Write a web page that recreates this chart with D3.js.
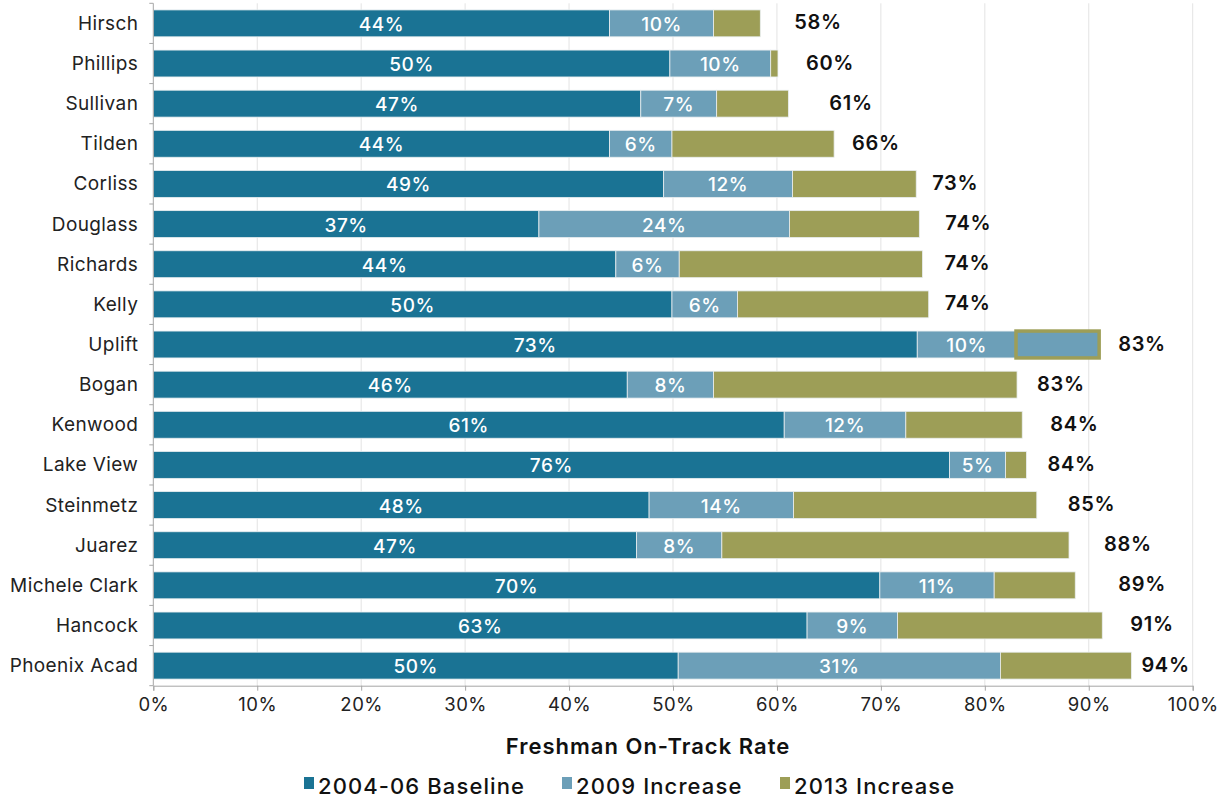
<!DOCTYPE html>
<html>
<head>
<meta charset="utf-8">
<script src="https://cdn.jsdelivr.net/npm/d3@7/dist/d3.min.js"></script>
<style>
  html, body { margin: 0; padding: 0; background: #fff; }
  svg { display: block; }
  text { font-family: Inter, "Noto Sans", sans-serif; }
</style>
</head>
<body>
<svg id="chart" width="1228" height="798"></svg>
<script>
// ---- data ----
const categories = ["Hirsch", "Phillips", "Sullivan", "Tilden", "Corliss", "Douglass ", "Richards", "Kelly", "Uplift", "Bogan", "Kenwood", "Lake View", "Steinmetz", "Juarez", "Michele Clark", "Hancock", "Phoenix Acad"];
const baseline2004 = [43.9, 49.7, 46.9, 43.9, 49.1, 37.1, 44.5, 49.9, 73.5, 45.6, 60.7, 76.6, 47.7, 46.5, 69.9, 62.9, 50.5];
const increase2009 = [10.0, 9.7, 7.3, 6.0, 12.4, 24.1, 6.1, 6.3, 9.5, 8.3, 11.7, 5.4, 13.9, 8.2, 11.0, 8.7, 31.0];
const increase2013 = [4.5, 0.7, 6.9, 15.6, 11.9, 12.5, 23.4, 18.4, 8.0, 29.2, 11.2, 2.0, 23.4, 33.4, 7.8, 19.7, 12.6];
const baselineLabels = ["44%", "50%", "47%", "44%", "49%", "37%", "44%", "50%", "73%", "46%", "61%", "76%", "48%", "47%", "70%", "63%", "50%"];
const inc2009Labels = ["10%", "10%", "7%", "6%", "12%", "24%", "6%", "6%", "10%", "8%", "12%", "5%", "14%", "8%", "11%", "9%", "31%"];
const totalLabels = ["58%", "60%", "61%", "66%", "73%", "74%", "74%", "74%", "83%", "83%", "84%", "84%", "85%", "88%", "89%", "91%", "94%"];
const seriesNames = ["2004-06 Baseline", "2009 Increase", "2013 Increase"];
const xTicks = [0, 10, 20, 30, 40, 50, 60, 70, 80, 90, 100];
const outlinedCategories = ["Uplift"];

// ---- layout (not data) ----
const totalLabelGap = [34, 28, 41, 18, 16, 26, 22, 16, 19, 20, 28, 21, 31, 35, 43, 28, 10];
const colors = ["#1a7394", "#6c9fb8", "#9d9e57"];
const plot = { left: 153.3, right: 1192.7, top: 3.3, bottom: 685.7 };

const svg = d3.select("#chart");

const x = d3.scaleLinear().domain([0, 100]).range([plot.left, plot.right]);
const y = d3.scaleBand().domain(categories).range([plot.top, plot.bottom])
  .paddingInner(0.33).paddingOuter(0.165);

// gridlines
svg.append("g").selectAll("line").data(xTicks.filter(d => d > 0)).join("line")
  .attr("x1", d => x(d)).attr("x2", d => x(d))
  .attr("y1", plot.top).attr("y2", plot.bottom)
  .attr("stroke", "#e3e3e3").attr("stroke-width", 1);

// stacked data
const table = categories.map((c, i) => ({ cat: c, s0: baseline2004[i], s1: increase2009[i], s2: increase2013[i] }));
const stack = d3.stack().keys(["s0", "s1", "s2"])(table);
const isOutlined = (k, d) => k === 2 && outlinedCategories.includes(d.data.cat);

const gBars = svg.append("g");
stack.forEach((layer, k) => {
  gBars.append("g").selectAll("rect").data(layer).join("rect")
    .attr("x", d => x(d[0]))
    .attr("y", d => y(d.data.cat))
    .attr("width", d => x(d[1]) - x(d[0]))
    .attr("height", y.bandwidth())
    .attr("fill", d => isOutlined(k, d) ? colors[1] : colors[k])
    .attr("stroke", d => isOutlined(k, d) ? colors[2] : "#e9eef0")
    .attr("stroke-width", d => isOutlined(k, d) ? 3.5 : 0.8);
});

// segment labels
const segLabels = [baselineLabels, inc2009Labels];
[0, 1].forEach(k => {
  svg.append("g").selectAll("text").data(stack[k]).join("text")
    .attr("x", d => (x(d[0]) + x(d[1])) / 2)
    .attr("y", d => y(d.data.cat) + y.bandwidth() / 2 + 1)
    .attr("text-anchor", "middle")
    .attr("dominant-baseline", "central")
    .attr("fill", "#fff")
    .attr("font-size", 19)
    .attr("font-weight", 500)
    .attr("letter-spacing", 0.6)
    .text((d, i) => segLabels[k][i]);
});

// total labels
svg.append("g").selectAll("text").data(stack[2]).join("text")
  .attr("x", (d, i) => x(d[1]) + totalLabelGap[i])
  .attr("y", d => y(d.data.cat) + y.bandwidth() / 2 - 1)
  .attr("text-anchor", "start")
  .attr("dominant-baseline", "central")
  .attr("fill", "#111")
  .attr("font-size", 20)
  .attr("font-weight", 600)
  .attr("letter-spacing", 0.7)
  .text((d, i) => totalLabels[i]);

// y axis
const gy = svg.append("g");
gy.append("line").attr("x1", plot.left).attr("x2", plot.left)
  .attr("y1", plot.top).attr("y2", plot.bottom).attr("stroke", "#a6a6a6");
const step = y.step();
const boundaries = d3.range(categories.length + 1).map(i => plot.top + i * step);
gy.selectAll("line.tick").data(boundaries).join("line").attr("class", "tick")
  .attr("x1", plot.left - 4).attr("x2", plot.left)
  .attr("y1", d => d).attr("y2", d => d).attr("stroke", "#a6a6a6");
gy.selectAll("text").data(categories).join("text")
  .attr("x", plot.left - 15)
  .attr("y", d => y(d) + y.bandwidth() / 2)
  .attr("text-anchor", "end")
  .attr("dominant-baseline", "central")
  .attr("fill", "#222")
  .attr("font-size", 19)
  .attr("letter-spacing", 0.4)
  .text(d => d);

// x axis
const xAxis = d3.axisBottom(x).tickValues(xTicks).tickFormat(d => d + "%").tickSize(5).tickPadding(7);
const gx = svg.append("g").attr("transform", `translate(0,${plot.bottom})`).call(xAxis);
gx.select(".domain").attr("stroke", "#a6a6a6");
gx.selectAll(".tick line").attr("stroke", "#a6a6a6");
gx.selectAll(".tick text").attr("font-size", 18.5).attr("fill", "#222")
  .attr("letter-spacing", 0.5)
  .attr("font-family", "Inter, 'Noto Sans', sans-serif");

// axis title
svg.append("text").attr("x", 648).attr("y", 746)
  .attr("text-anchor", "middle").attr("dominant-baseline", "central")
  .attr("font-size", 22).attr("font-weight", 600).attr("fill", "#111")
  .attr("letter-spacing", 1.0)
  .text("Freshman On-Track Rate");

// legend
const legend = svg.append("g");
const legendX = [304, 562, 780];
seriesNames.forEach((name, k) => {
  legend.append("rect").attr("x", legendX[k]).attr("y", 777).attr("width", 10).attr("height", 12)
    .attr("fill", colors[k]);
  legend.append("text").attr("x", legendX[k] + 14).attr("y", 786)
    .attr("dominant-baseline", "central")
    .attr("font-size", 22).attr("font-weight", 500).attr("fill", "#111")
    .attr("letter-spacing", 1.1)
    .text(name);
});
</script>
</body>
</html>
